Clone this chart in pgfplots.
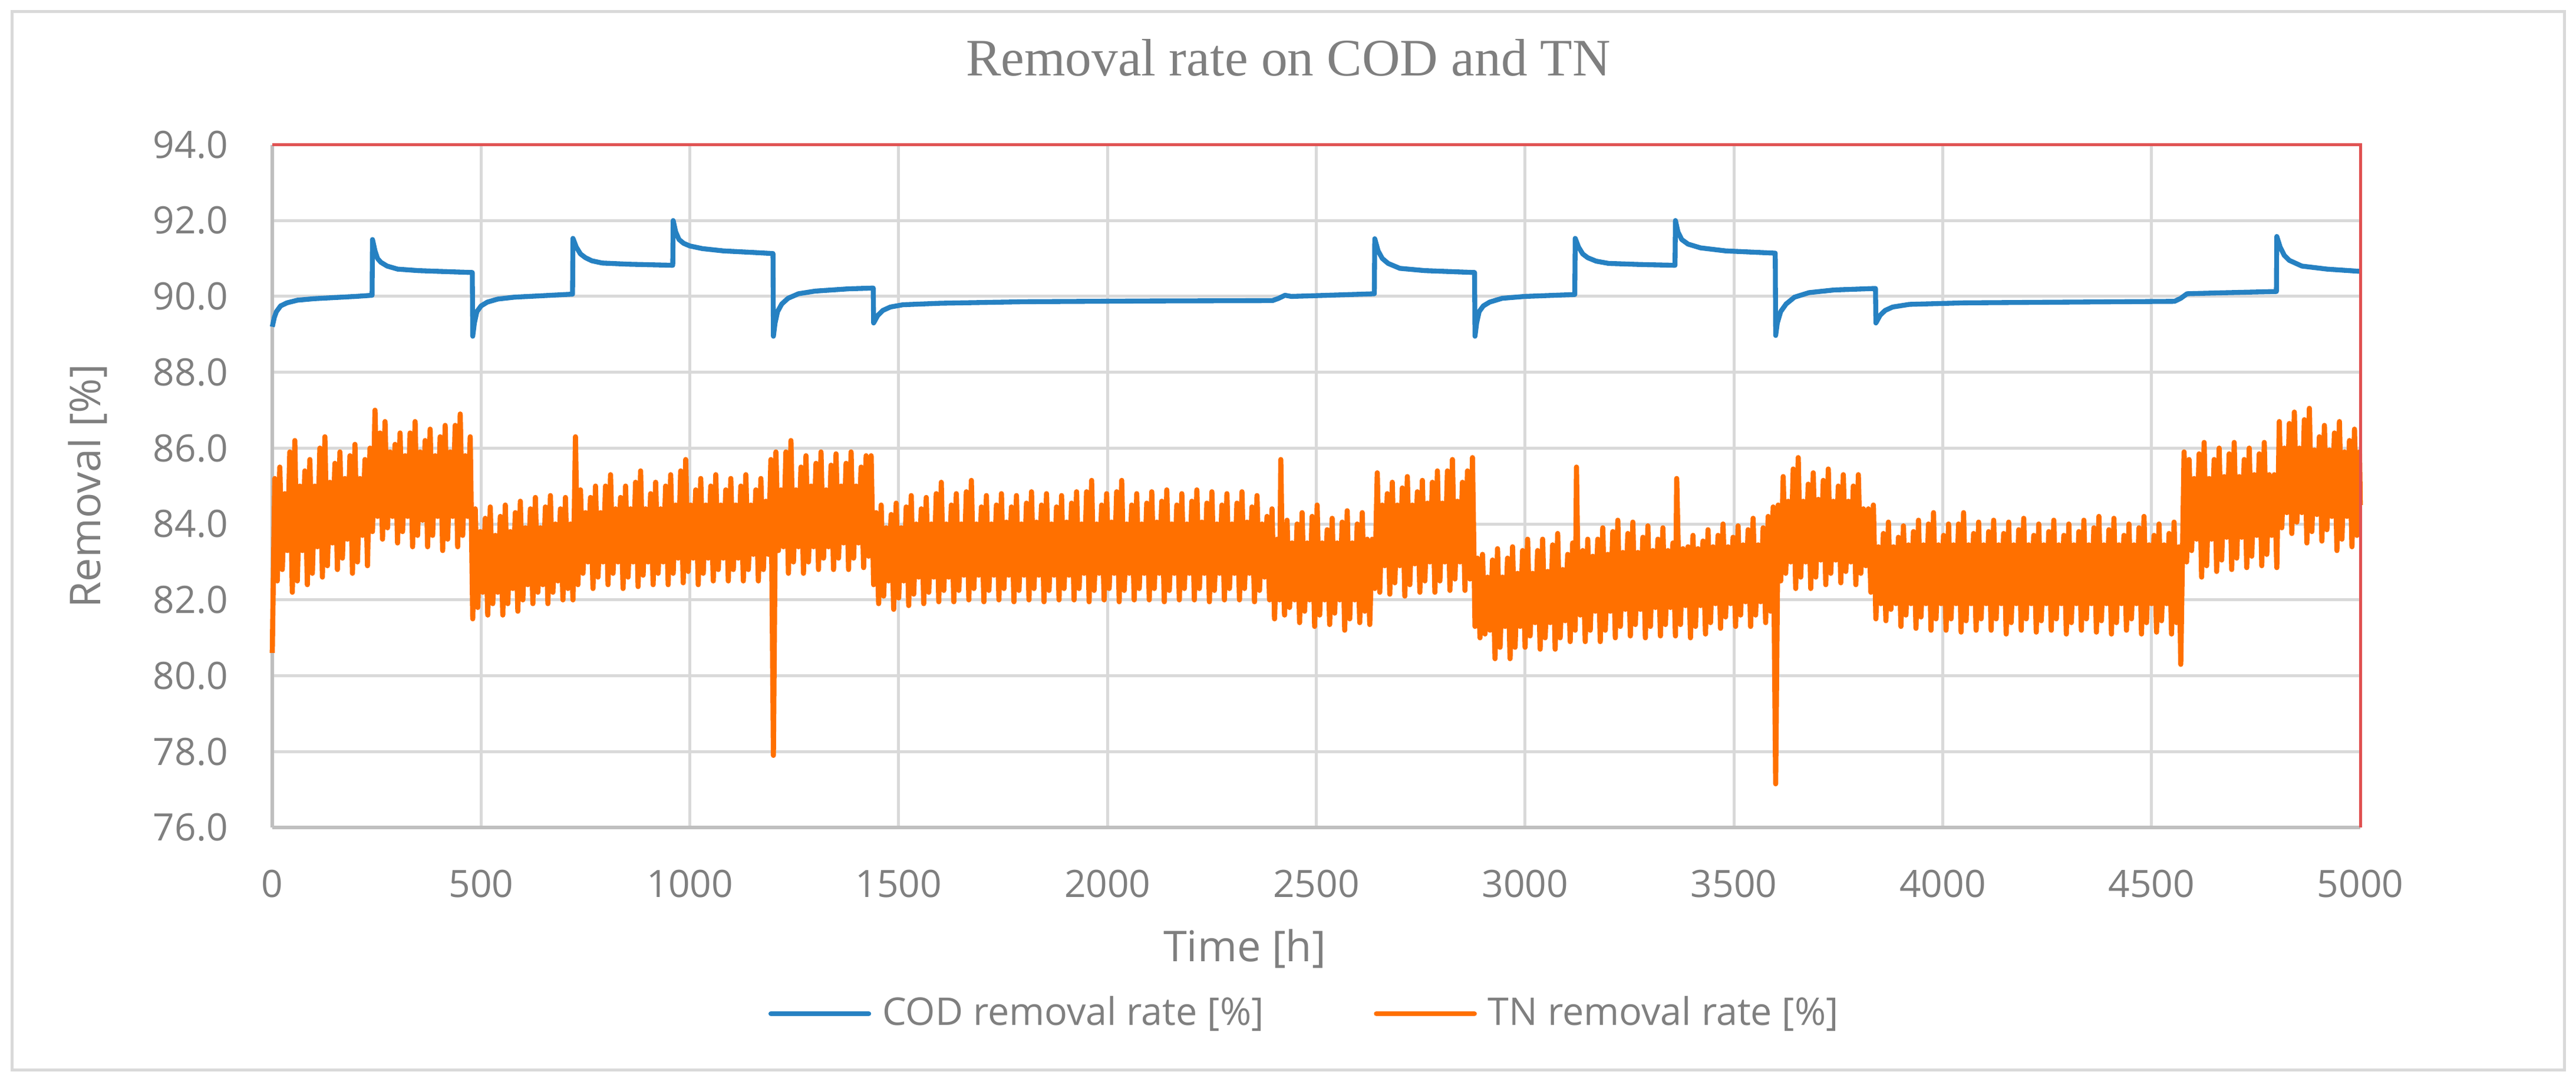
\documentclass[border=0pt]{standalone}
\usepackage{pgfplots}
\pgfplotsset{compat=1.18}
\usepackage{fontspec}
\setmainfont{Open Sans}
\newfontfamily\titlefont{Liberation Serif}
\definecolor{txt}{HTML}{7F7F7F}
\definecolor{gridc}{HTML}{D9D9D9}
\definecolor{axc}{HTML}{BFBFBF}
\definecolor{redc}{HTML}{E05252}
\definecolor{codc}{HTML}{2681C2}
\definecolor{tnc}{HTML}{FF7000}
\begin{document}
\begin{tikzpicture}
\fill[white] (0,0) rectangle (655.65pt,276pt);
\draw[gridc, line width=0.75pt] (3pt,3.75pt) rectangle (652.65pt,273pt);
\begin{axis}[
  at={(69.3pt,65.4pt)}, anchor=south west,
  scale only axis, width=531.45pt, height=173.775pt,
  xmin=0, xmax=5000, ymin=76, ymax=94,
  xtick={0,500,...,5000}, ytick={76,78,...,94},
  clip=false,
  grid=major, major grid style={gridc, line width=0.75pt},
  axis x line*=bottom, axis y line*=left,
  axis line style={axc, line width=0.9pt, -},
  major tick length=0pt, tick style={draw=none},
  /pgf/number format/assume math mode=true,
  /pgf/number format/1000 sep={},
  ticklabel style={font=\fontsize{9.6}{11}\selectfont, text=txt},
  x tick label style={anchor=north, inner sep=0pt, yshift=-10.65pt},
  y tick label style={anchor=east, inner sep=0pt, xshift=-11.1pt,
    /pgf/number format/fixed, /pgf/number format/fixed zerofill, /pgf/number format/precision=1},
  xlabel={Time [h]}, ylabel={Removal [\%]},
  label style={font=\fontsize{10.8}{12}\selectfont, text=txt},
  xlabel style={at={(axis description cs:0.4657,-0.1968)}, anchor=base},
  ylabel style={at={(axis description cs:-0.0824,0.5)}, anchor=base},
  title={\titlefont Removal rate on COD and TN},
  title style={at={(axis description cs:0.4866,1.0669)}, anchor=base, font=\fontsize{13.4}{15}\selectfont, text=txt},
  legend style={draw=none, fill=none, at={(axis description cs:0.4939,-0.2728)}, anchor=center,
    font=\fontsize{9.7}{11}\selectfont, text=txt, nodes={inner sep=0pt},
    /tikz/every even column/.append style={column sep=28pt},
    /tikz/every odd column/.append style={column sep=2.85pt}},
  legend columns=2, legend cell align=left,
  legend image code/.code={\draw[#1, line cap=round] (0pt,0pt) -- (24.9pt,0pt);},
]
\addplot[codc, line width=1.25pt, line join=round] coordinates {
(0,89.2)(5,89.45)(10,89.6)(20,89.75)(35,89.83)(60,89.9)(100,89.94)(150,89.97)(200,90.0)(239,90.03)
(240,91.5)(246,91.2)(252,91.0)(260,90.9)(275,90.8)(300,90.72)(350,90.68)(400,90.66)(479,90.63)
(480,88.95)(484,89.3)(490,89.6)(500,89.75)(515,89.85)(540,89.93)(580,89.98)(650,90.02)(719,90.06)
(720,91.53)(728,91.3)(738,91.12)(750,91.02)(765,90.94)(790,90.88)(850,90.85)(959,90.82)
(960,92.0)(966,91.7)(974,91.5)(985,91.4)(1000,91.33)(1030,91.26)(1080,91.2)(1150,91.16)(1199,91.13)
(1200,88.95)(1204,89.3)(1210,89.6)(1220,89.8)(1235,89.95)(1260,90.07)(1300,90.14)(1380,90.2)(1439,90.22)
(1440,89.3)(1450,89.5)(1462,89.63)(1480,89.72)(1510,89.78)(1600,89.82)(1800,89.86)(2100,89.88)(2395,89.89)
(2410,89.95)(2425,90.03)(2440,90.0)(2500,90.02)(2639,90.07)
(2640,91.52)(2648,91.2)(2658,91.0)(2672,90.87)(2700,90.74)(2760,90.68)(2879,90.63)
(2880,88.95)(2884,89.3)(2890,89.6)(2900,89.75)(2915,89.85)(2945,89.95)(3000,90.0)(3119,90.05)
(3120,91.53)(3128,91.3)(3138,91.12)(3150,91.02)(3170,90.93)(3200,90.87)(3280,90.84)(3359,90.82)
(3360,92.0)(3366,91.7)(3375,91.5)(3390,91.38)(3420,91.28)(3480,91.2)(3599,91.14)
(3600,88.97)(3604,89.3)(3612,89.6)(3625,89.8)(3645,89.98)(3680,90.1)(3740,90.17)(3839,90.21)
(3840,89.3)(3850,89.5)(3862,89.63)(3880,89.72)(3920,89.79)(4050,89.83)(4300,89.85)(4555,89.87)
(4570,89.95)(4585,90.07)(4650,90.09)(4799,90.13)
(4800,91.58)(4808,91.3)(4818,91.08)(4830,90.95)(4860,90.8)(4920,90.72)(5000,90.66)
};
\addlegendentry{COD removal rate [\%]}
\addplot[tnc, line width=1.3pt, line join=round] coordinates {
(0,80.6)(6,85.2)(12,82.5)(18,85.5)(24,82.8)(30,84.8)
(36,83.3)(42,85.9)(48,82.2)(54,86.2)(60,82.5)(66,85.0)
(72,83.3)(78,85.4)(84,82.4)(90,85.7)(96,82.7)(102,85.0)
(108,83.4)(114,86.0)(120,82.6)(126,86.3)(132,82.9)(138,85.1)
(144,83.5)(150,85.6)(156,82.8)(162,85.9)(168,83.1)(174,85.2)
(180,83.6)(186,85.8)(192,82.7)(198,86.1)(204,83.0)(210,85.2)
(216,83.7)(222,85.7)(228,82.9)(234,86.0)(240,83.8)(246,87.0)
(252,84.2)(258,86.4)(264,83.6)(270,86.7)(276,83.9)(282,85.9)
(288,84.2)(294,86.1)(300,83.5)(306,86.4)(312,83.8)(318,85.8)
(324,84.2)(330,86.4)(336,83.4)(342,86.7)(348,83.7)(354,85.9)
(360,84.1)(366,86.2)(372,83.4)(378,86.5)(384,83.7)(390,85.8)
(396,84.2)(402,86.3)(408,83.3)(414,86.6)(420,83.6)(426,85.9)
(432,84.2)(438,86.6)(444,83.4)(450,86.9)(456,83.7)(462,85.8)
(468,84.2)(474,86.3)(480,81.5)(486,84.4)(492,81.8)(498,83.8)
(504,82.2)(510,84.15)(516,81.6)(522,84.45)(528,81.9)(534,83.7)
(540,82.2)(546,84.2)(552,81.6)(558,84.5)(564,81.9)(570,83.8)
(576,82.3)(582,84.3)(588,81.7)(594,84.6)(600,82.0)(606,83.9)
(612,82.4)(618,84.4)(624,81.9)(630,84.7)(636,82.2)(642,83.9)
(648,82.4)(654,84.45)(660,81.9)(666,84.75)(672,82.2)(678,84.0)
(684,82.5)(690,84.4)(696,82.0)(702,84.7)(708,82.3)(714,84.0)
(720,82.0)(726,86.3)(732,82.4)(738,84.9)(744,82.7)(750,84.3)
(756,83.0)(762,84.7)(768,82.3)(774,85.0)(780,82.6)(786,84.3)
(792,83.0)(798,85.0)(804,82.4)(810,85.3)(816,82.7)(822,84.4)
(828,83.0)(834,84.7)(840,82.3)(846,85.0)(852,82.6)(858,84.4)
(864,83.0)(870,85.1)(876,82.35)(882,85.4)(888,82.65)(894,84.4)
(900,83.0)(906,84.8)(912,82.4)(918,85.1)(924,82.7)(930,84.4)
(936,83.0)(942,85.0)(948,82.4)(954,85.3)(960,82.7)(966,84.5)
(972,83.1)(978,85.4)(984,82.45)(990,85.7)(996,82.75)(1002,84.5)
(1008,83.1)(1014,84.9)(1020,82.4)(1026,85.2)(1032,82.7)(1038,84.5)
(1044,83.1)(1050,85.0)(1056,82.5)(1062,85.3)(1068,82.8)(1074,84.5)
(1080,83.1)(1086,84.9)(1092,82.5)(1098,85.2)(1104,82.8)(1110,84.5)
(1116,83.1)(1122,85.0)(1128,82.5)(1134,85.3)(1140,82.8)(1146,84.5)
(1152,83.2)(1158,84.9)(1164,82.5)(1170,85.2)(1176,82.8)(1182,84.6)
(1188,83.2)(1194,85.7)(1200,77.9)(1206,85.9)(1212,83.3)(1218,84.9)
(1224,83.4)(1230,85.9)(1236,82.7)(1242,86.2)(1248,83.0)(1254,84.9)
(1260,83.4)(1266,85.5)(1272,82.7)(1278,85.8)(1284,83.0)(1290,85.0)
(1296,83.4)(1302,85.6)(1308,82.8)(1314,85.9)(1320,83.1)(1326,84.9)
(1332,83.4)(1338,85.55)(1344,82.8)(1350,85.85)(1356,83.1)(1362,85.0)
(1368,83.5)(1374,85.6)(1380,82.8)(1386,85.9)(1392,83.1)(1398,85.0)
(1404,83.5)(1410,85.5)(1416,82.85)(1422,85.8)(1428,83.15)(1434,85.8)
(1440,82.4)(1446,84.3)(1452,81.9)(1458,84.5)(1464,82.1)(1470,83.9)
(1476,82.5)(1482,84.25)(1488,81.75)(1494,84.55)(1500,82.05)(1506,83.9)
(1512,82.5)(1518,84.45)(1524,81.85)(1530,84.75)(1536,82.15)(1542,84.0)
(1548,82.6)(1554,84.4)(1560,81.9)(1566,84.7)(1572,82.2)(1578,84.0)
(1584,82.6)(1590,84.8)(1596,81.95)(1602,85.1)(1608,82.25)(1614,84.0)
(1620,82.6)(1626,84.5)(1632,81.95)(1638,84.8)(1644,82.25)(1650,84.0)
(1656,82.65)(1662,84.85)(1668,82.0)(1674,85.15)(1680,82.3)(1686,84.0)
(1692,82.65)(1698,84.45)(1704,81.95)(1710,84.75)(1716,82.25)(1722,84.0)
(1728,82.65)(1734,84.5)(1740,82.0)(1746,84.8)(1752,82.3)(1758,84.05)
(1764,82.65)(1770,84.45)(1776,81.95)(1782,84.75)(1788,82.25)(1794,84.0)
(1800,82.65)(1806,84.55)(1812,82.0)(1818,84.85)(1824,82.3)(1830,84.05)
(1836,82.65)(1842,84.5)(1848,81.95)(1854,84.8)(1860,82.25)(1866,84.0)
(1872,82.65)(1878,84.45)(1884,82.0)(1890,84.75)(1896,82.3)(1902,84.05)
(1908,82.65)(1914,84.55)(1920,82.0)(1926,84.85)(1932,82.3)(1938,84.0)
(1944,82.7)(1950,84.85)(1956,81.95)(1962,85.15)(1968,82.25)(1974,84.0)
(1980,82.7)(1986,84.5)(1992,82.0)(1998,84.8)(2004,82.3)(2010,84.05)
(2016,82.7)(2022,84.85)(2028,81.95)(2034,85.15)(2040,82.25)(2046,84.0)
(2052,82.7)(2058,84.5)(2064,82.0)(2070,84.8)(2076,82.3)(2082,84.0)
(2088,82.7)(2094,84.55)(2100,82.0)(2106,84.85)(2112,82.3)(2118,84.05)
(2124,82.7)(2130,84.6)(2136,81.95)(2142,84.9)(2148,82.25)(2154,84.0)
(2160,82.7)(2166,84.5)(2172,82.0)(2178,84.8)(2184,82.3)(2190,84.0)
(2196,82.7)(2202,84.6)(2208,82.0)(2214,84.9)(2220,82.3)(2226,84.05)
(2232,82.7)(2238,84.55)(2244,81.95)(2250,84.85)(2256,82.25)(2262,84.0)
(2268,82.7)(2274,84.5)(2280,82.0)(2286,84.8)(2292,82.3)(2298,84.0)
(2304,82.7)(2310,84.55)(2316,82.0)(2322,84.85)(2328,82.3)(2334,84.05)
(2340,82.7)(2346,84.45)(2352,81.95)(2358,84.75)(2364,82.25)(2370,84.0)
(2376,82.6)(2382,84.2)(2388,82.0)(2394,84.4)(2400,81.5)(2406,83.6)
(2412,82.0)(2415,85.7)(2418,83.5)(2424,81.6)(2430,84.1)(2436,81.8)(2442,83.5)
(2448,82.0)(2454,84.0)(2460,81.4)(2466,84.3)(2472,81.7)(2478,83.5)
(2484,82.0)(2490,84.2)(2496,81.3)(2502,84.5)(2508,81.6)(2514,83.5)
(2520,82.0)(2526,83.85)(2532,81.35)(2538,84.15)(2544,81.65)(2550,83.5)
(2556,82.0)(2562,84.05)(2568,81.2)(2574,84.35)(2580,81.5)(2586,83.5)
(2592,82.0)(2598,84.0)(2604,81.4)(2610,84.3)(2616,81.7)(2622,83.6)
(2628,81.35)(2634,83.6)(2640,82.3)(2646,85.35)(2652,82.2)(2658,84.5)
(2664,82.9)(2670,84.8)(2676,82.15)(2682,85.1)(2688,82.45)(2694,84.5)
(2700,82.9)(2706,84.95)(2712,82.1)(2718,85.25)(2724,82.4)(2730,84.5)
(2736,82.95)(2742,84.85)(2748,82.2)(2754,85.15)(2760,82.5)(2766,84.55)
(2772,83.0)(2778,85.1)(2784,82.2)(2790,85.4)(2796,82.5)(2802,84.55)
(2808,83.0)(2814,85.4)(2820,82.25)(2826,85.7)(2832,82.55)(2838,84.6)
(2844,83.0)(2850,85.1)(2856,82.25)(2862,85.4)(2868,82.55)(2874,85.75)
(2880,81.3)(2886,83.1)(2892,81.0)(2898,83.2)(2904,81.1)(2910,82.6)
(2916,81.2)(2922,83.05)(2928,80.45)(2934,83.35)(2940,80.75)(2946,82.6)
(2952,81.3)(2958,83.1)(2964,80.45)(2970,83.4)(2976,80.75)(2982,82.7)
(2988,81.3)(2994,83.3)(3000,80.75)(3006,83.6)(3012,81.05)(3018,82.7)
(3024,81.4)(3030,83.3)(3036,80.7)(3042,83.6)(3048,81.0)(3054,82.75)
(3060,81.4)(3066,83.45)(3072,80.7)(3078,83.75)(3084,81.0)(3090,82.8)
(3096,81.45)(3102,83.2)(3108,80.9)(3114,83.5)(3120,81.2)(3123,85.5)(3126,83.2)
(3132,81.6)(3138,83.3)(3144,80.9)(3150,83.6)(3156,81.2)(3162,83.15)
(3168,81.7)(3174,83.6)(3180,80.9)(3186,83.9)(3192,81.2)(3198,83.2)
(3204,81.7)(3210,83.8)(3216,81.0)(3222,84.1)(3228,81.3)(3234,83.25)
(3240,81.75)(3246,83.75)(3252,81.05)(3258,84.05)(3264,81.35)(3270,83.25)
(3276,81.75)(3282,83.65)(3288,81.0)(3294,83.95)(3300,81.3)(3306,83.3)
(3312,81.8)(3318,83.6)(3324,81.05)(3330,83.9)(3336,81.35)(3342,83.3)
(3348,81.8)(3354,83.5)(3360,81.05)(3363,85.2)(3366,83.7)(3372,81.35)(3378,83.35)
(3384,81.85)(3390,83.4)(3396,81.0)(3402,83.7)(3408,81.3)(3414,83.35)
(3420,81.85)(3426,83.55)(3432,81.1)(3438,83.85)(3444,81.4)(3450,83.4)
(3456,81.9)(3462,83.7)(3468,81.25)(3474,84.0)(3480,81.55)(3486,83.4)
(3492,81.9)(3498,83.65)(3504,81.3)(3510,83.95)(3516,81.6)(3522,83.45)
(3528,81.95)(3534,83.85)(3540,81.3)(3546,84.15)(3552,81.6)(3558,83.45)
(3564,81.95)(3570,83.9)(3576,81.4)(3582,84.2)(3588,81.7)(3594,84.45)
(3600,77.15)(3606,84.5)(3612,82.5)(3618,85.25)(3624,82.7)(3630,84.6)
(3636,83.0)(3642,85.45)(3648,82.3)(3654,85.75)(3660,82.6)(3666,84.6)
(3672,83.0)(3678,85.05)(3684,82.3)(3690,85.35)(3696,82.6)(3702,84.65)
(3708,83.05)(3714,85.15)(3720,82.4)(3726,85.45)(3732,82.7)(3738,84.6)
(3744,83.05)(3750,85.0)(3756,82.45)(3762,85.3)(3768,82.75)(3774,84.6)
(3780,83.0)(3786,85.0)(3792,82.4)(3798,85.3)(3804,82.7)(3810,84.4)
(3816,82.9)(3822,84.4)(3828,82.2)(3834,84.5)(3840,81.5)(3846,83.4)
(3852,81.9)(3858,83.75)(3864,81.45)(3870,84.05)(3876,81.75)(3882,83.4)
(3888,81.9)(3894,83.65)(3900,81.3)(3906,83.95)(3912,81.6)(3918,83.45)
(3924,81.9)(3930,83.8)(3936,81.25)(3942,84.1)(3948,81.55)(3954,83.45)
(3960,81.9)(3966,84.0)(3972,81.2)(3978,84.3)(3984,81.5)(3990,83.45)
(3996,81.9)(4002,83.7)(4008,81.2)(4014,84.0)(4020,81.5)(4026,83.45)
(4032,81.9)(4038,84.0)(4044,81.15)(4050,84.3)(4056,81.45)(4062,83.45)
(4068,81.9)(4074,83.75)(4080,81.2)(4086,84.05)(4092,81.5)(4098,83.45)
(4104,81.9)(4110,83.8)(4116,81.2)(4122,84.1)(4128,81.5)(4134,83.45)
(4140,81.9)(4146,83.75)(4152,81.1)(4158,84.05)(4164,81.4)(4170,83.45)
(4176,81.9)(4182,83.85)(4188,81.2)(4194,84.15)(4200,81.5)(4206,83.45)
(4212,81.9)(4218,83.7)(4224,81.15)(4230,84.0)(4236,81.45)(4242,83.45)
(4248,81.9)(4254,83.8)(4260,81.2)(4266,84.1)(4272,81.5)(4278,83.45)
(4284,81.9)(4290,83.7)(4296,81.1)(4302,84.0)(4308,81.4)(4314,83.45)
(4320,81.9)(4326,83.8)(4332,81.2)(4338,84.1)(4344,81.5)(4350,83.45)
(4356,81.9)(4362,83.9)(4368,81.15)(4374,84.2)(4380,81.45)(4386,83.45)
(4392,81.9)(4398,83.85)(4404,81.1)(4410,84.15)(4416,81.4)(4422,83.45)
(4428,81.9)(4434,83.7)(4440,81.2)(4446,84.0)(4452,81.5)(4458,83.45)
(4464,81.9)(4470,83.9)(4476,81.1)(4482,84.2)(4488,81.4)(4494,83.45)
(4500,81.9)(4506,83.7)(4512,81.15)(4518,84.0)(4524,81.45)(4530,83.45)
(4536,81.9)(4542,83.75)(4548,81.1)(4554,84.05)(4560,81.4)(4566,83.4)
(4570,80.3)(4578,85.9)(4584,83.0)(4590,85.7)(4596,83.3)(4602,85.2)
(4608,83.6)(4614,85.85)(4620,82.6)(4626,86.15)(4632,82.9)(4638,85.2)
(4644,83.6)(4650,85.7)(4656,82.75)(4662,86.0)(4668,83.05)(4674,85.25)
(4680,83.65)(4686,85.85)(4692,82.8)(4698,86.15)(4704,83.1)(4710,85.25)
(4716,83.65)(4722,85.7)(4728,82.85)(4734,86.0)(4740,83.15)(4746,85.3)
(4752,83.7)(4758,85.85)(4764,82.9)(4770,86.15)(4776,83.2)(4782,85.3)
(4788,83.7)(4794,85.3)(4800,82.85)(4806,86.7)(4812,83.9)(4818,86.0)
(4824,84.3)(4830,86.65)(4836,83.75)(4842,86.95)(4848,84.05)(4854,86.0)
(4860,84.3)(4866,86.75)(4872,83.5)(4878,87.05)(4884,83.8)(4890,85.95)
(4896,84.25)(4902,86.3)(4908,83.55)(4914,86.6)(4920,83.85)(4926,85.95)
(4932,84.2)(4938,86.4)(4944,83.3)(4950,86.7)(4956,83.6)(4962,85.9)
(4968,84.2)(4974,86.2)(4980,83.4)(4986,86.5)(4992,83.7)(4998,85.9)(5000,84.5)
};
\addlegendentry{TN removal rate [\%]}
\draw[redc, line width=0.75pt] (rel axis cs:0,1) -- (rel axis cs:1,1) -- (rel axis cs:1,0);
\end{axis}
\end{tikzpicture}
\end{document}
